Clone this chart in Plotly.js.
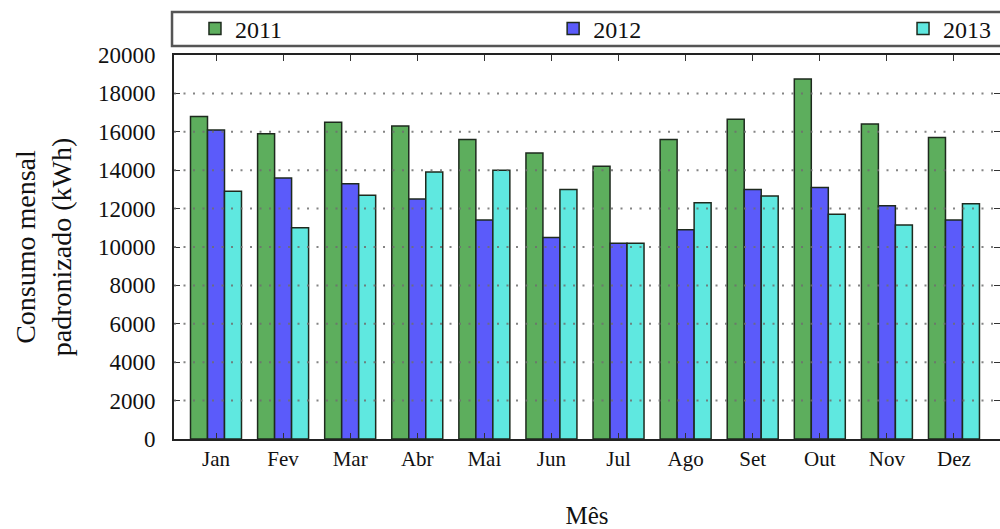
<!DOCTYPE html>
<html>
<head>
<meta charset="utf-8">
<script src="https://cdn.plot.ly/plotly-3.0.1.min.js"></script>
<style>html,body{margin:0;padding:0;background:#fff;}#chart{width:1000px;height:529px;}</style>
</head>
<body>
<div id="chart"></div>
<script>
const months = ["Jan","Fev","Mar","Abr","Mai","Jun","Jul","Ago","Set","Out","Nov","Dez"];
const years = ["2011","2012","2013"];
const consumo2011 = [16800,15900,16500,16300,15600,14900,14200,15600,16650,18750,16400,15700];
const consumo2012 = [16100,13600,13300,12500,11400,10500,10200,10900,13000,13100,12150,11400];
const consumo2013 = [12900,11000,12700,13900,14000,13000,10200,12300,12650,11700,11150,12250];
const yTicks = [0,2000,4000,6000,8000,10000,12000,14000,16000,18000,20000];

const series = [consumo2011, consumo2012, consumo2013];
const colors = ["#5DAE5D", "#5B5BFA", "#5FE8E0"];
const legendIds = ["legend", "legend2", "legend3"];

const traces = series.map((vals, i) => ({
  type: "bar",
  name: years[i],
  x: months,
  y: vals,
  marker: {color: colors[i], line: {color: "#1e2a1e", width: 1.5}},
  legend: legendIds[i],
  hoverinfo: "x+y+name"
}));

const serif = "Liberation Serif";
function legendCfg(xpos) {
  return {
    orientation: "h", yanchor: "middle", y: 1.068, xanchor: "left", x: xpos,
    bgcolor: "rgba(0,0,0,0)", borderwidth: 0,
    font: {family: serif, size: 24, color: "#111"}
  };
}

const gridShapes = yTicks.filter(v => v > 0 && v < 20000).map(v => ({
  type: "line", xref: "paper", yref: "y", x0: 0, x1: 1, y0: v, y1: v,
  line: {color: "rgba(110,110,110,0.85)", width: 2, dash: "2px,7.5px"}, layer: "above"
}));

const layout = {
  width: 1000, height: 529,
  margin: {l: 174, r: 0, t: 55, b: 90, autoexpand: false},
  paper_bgcolor: "#fff", plot_bgcolor: "#fff",
  font: {family: serif, color: "#111"},
  barmode: "group", bargap: 0.24, bargroupgap: 0,
  xaxis: {
    type: "category", range: [-0.626, 11.686],
    showline: true, linecolor: "#222", linewidth: 1.8, mirror: "ticks",
    ticks: "inside", ticklen: 6, tickcolor: "#333", tickwidth: 1,
    showgrid: false, zeroline: false,
    tickfont: {family: serif, size: 21, color: "#111"},
    title: {text: "Mês", font: {family: serif, size: 25, color: "#111"}, standoff: 38}
  },
  yaxis: {
    range: [0, 20000], tickvals: yTicks, tickformat: "d",
    showline: true, linecolor: "#222", linewidth: 1.8, mirror: "ticks",
    ticks: "inside", ticklen: 6, tickcolor: "#333", tickwidth: 1,
    showgrid: false, zeroline: false,
    ticklabelstandoff: 12,
    tickfont: {family: serif, size: 23, color: "#111"},
    title: {text: "Consumo mensal<br>padronizado (kWh)", font: {family: serif, size: 28, color: "#111"}, standoff: 18}
  },
  legend: legendCfg(0.0254),
  legend2: legendCfg(0.459),
  legend3: legendCfg(0.8826),
  shapes: [
    {type: "rect", xref: "paper", yref: "paper", x0: -0.0024, x1: 1.02, y0: 1.0234, y1: 1.112,
     line: {color: "#555", width: 2.5}, fillcolor: "rgba(0,0,0,0)", layer: "above"}
  ].concat(gridShapes),
  showlegend: true
};

Plotly.newPlot("chart", traces, layout, {displayModeBar: false, staticPlot: true});
</script>
</body>
</html>
